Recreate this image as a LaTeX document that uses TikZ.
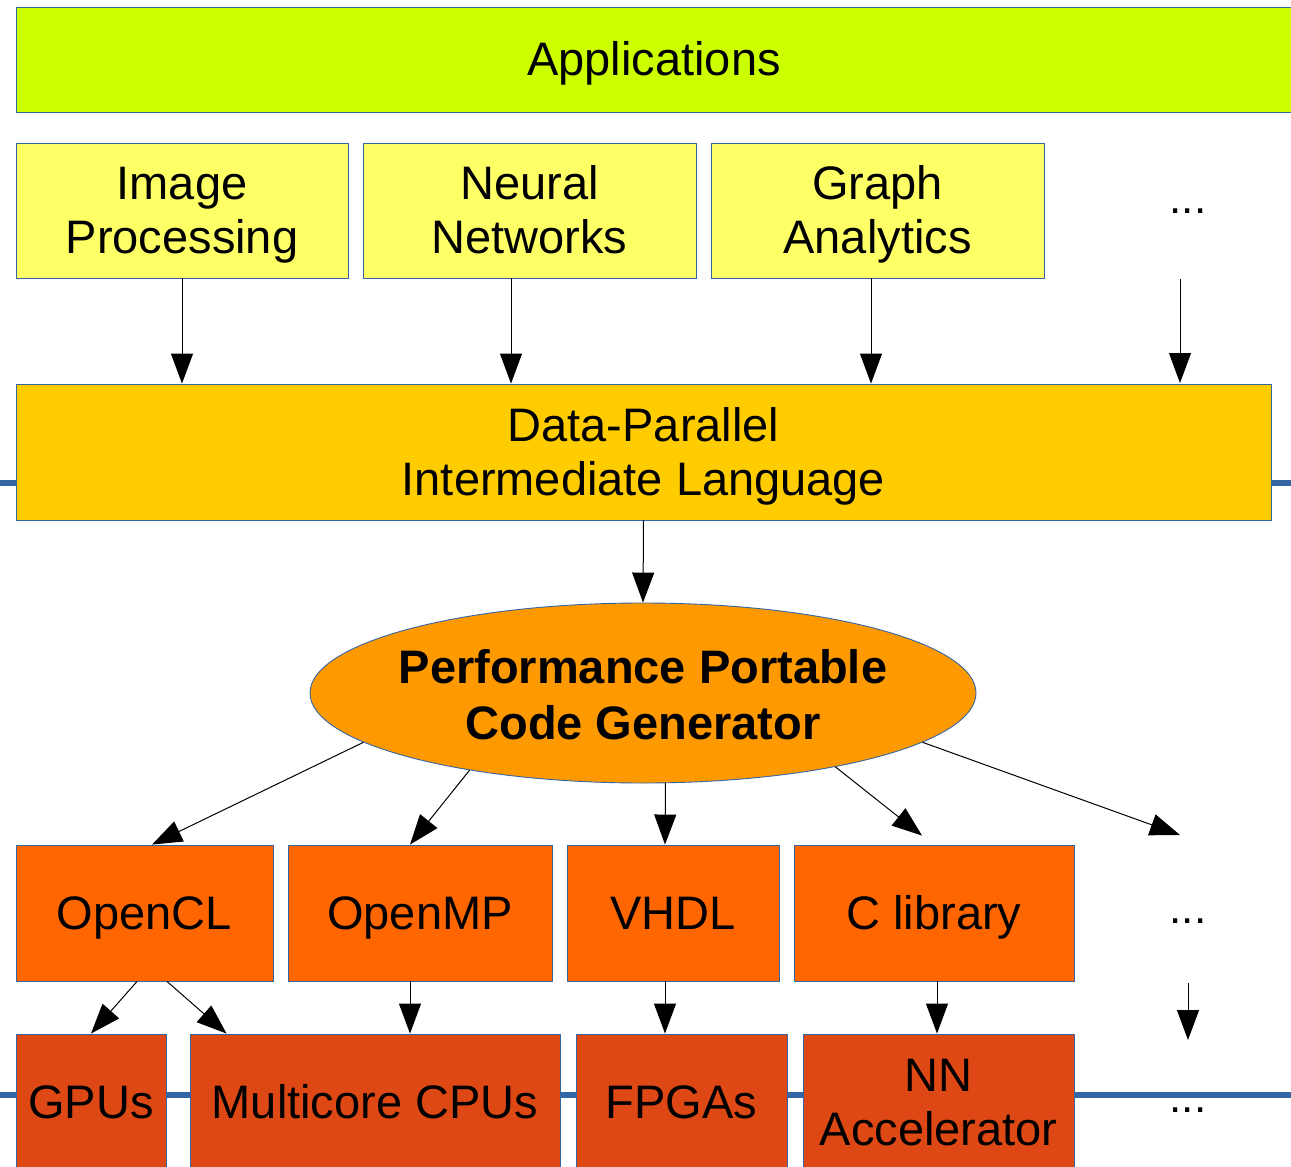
\documentclass[tikz,border=0pt]{standalone}
\usepackage{fontspec}
\setmainfont{Liberation Sans}
\usetikzlibrary{shapes.geometric,arrows.meta,calc}
\definecolor{appc}{HTML}{CCFF00}
\definecolor{yelc}{HTML}{FFFF66}
\definecolor{dpc}{HTML}{FFCC00}
\definecolor{elc}{HTML}{FF9900}
\definecolor{bkc}{HTML}{FF6600}
\definecolor{hwc}{HTML}{DD4814}
\definecolor{bordc}{HTML}{3465A4}
\newcommand\mystrut{\rule[-10pt]{0pt}{52.5pt}}
\begin{document}
\begin{tikzpicture}[x=1pt,y=-1pt,
  box/.style={draw=bordc, line width=0.9pt, rectangle, inner sep=0pt, align=center,
    font=\fontsize{47}{54}\selectfont},
  row1/.style={box, fill=yelc, minimum height=135pt},
  row3/.style={box, fill=bkc, minimum height=136pt},
  row4/.style={box, fill=hwc, minimum height=136pt},
  dots/.style={inner sep=0pt, font=\fontsize{44}{50}\selectfont},
  arr/.style={-{Triangle[length=30pt,width=22pt]}, line width=1pt, black},
  busline/.style={bordc, line width=6pt},
]
\useasboundingbox (0,0) rectangle (1291,1167);
\clip (0,0) rectangle (1291,1167);

% blue bus lines (background)
\draw[busline] (0,482.5) -- (1291,482.5);
\draw[busline] (0,1095) -- (1291,1095);

% Applications
\node[box, fill=appc, minimum width=1276pt, minimum height=105pt] (app) at (654,59.5) {\mystrut Applications};

% Row 1
\node[row1, minimum width=332pt] (ip) at (182,210.5) {\mystrut Image\\\mystrut Processing};
\node[row1, minimum width=333pt] (nn) at (529.5,210.5) {\mystrut Neural\\\mystrut Networks};
\node[row1, minimum width=333pt] (ga) at (877.5,210.5) {\mystrut Graph\\\mystrut Analytics};
\node[dots] (d1) at (1188,211) {...};

% DPIL
\node[box, fill=dpc, minimum width=1255pt, minimum height=136pt] (dp) at (643.5,452) {\mystrut Data-Parallel\\\mystrut Intermediate Language};

% Ellipse
\node[ellipse, draw=bordc, line width=0.9pt, fill=elc, minimum width=666pt, minimum height=180pt,
  inner sep=0pt] (cg) at (643,693) {};
\node[inner sep=0pt, align=center, font=\fontsize{47}{56}\selectfont\bfseries] (cgt) at ([yshift=-2.5pt]cg.center)
  {\mystrut Performance Portable\\\mystrut Code Generator};

% Row 3
\node[row3, minimum width=257pt] (ocl) at (144.5,913) {\mystrut OpenCL};
\node[row3, minimum width=264pt] (omp) at (420,913) {\mystrut OpenMP};
\node[row3, minimum width=212pt] (vh) at (673,913) {\mystrut VHDL};
\node[row3, minimum width=280pt] (cl) at (934,913) {\mystrut C library};
\node[dots] (d2) at (1188,921) {...};

% Row 4
\node[row4, minimum width=150pt] (gpu) at (91,1102) {\mystrut GPUs};
\node[row4, minimum width=370pt] (mc) at (375,1102) {\mystrut Multicore CPUs};
\node[row4, minimum width=211pt] (fp) at (681.5,1102) {\mystrut FPGAs};
\node[row4, minimum width=271pt] (na) at (938.5,1102) {\mystrut NN\\\mystrut Accelerator};
\node[dots] (d3) at (1188,1110) {...};

% coordinates for free ends
\coordinate (r1s) at (1180,279);
\coordinate (r1e) at (1180,383);
\coordinate (r3e) at (1180,835);
\coordinate (r4s) at (1188,983);
\coordinate (r4e) at (1188,1040);

% Row 1 -> DPIL
\draw[arr] (ip.south) -- (ip.south |- dp.north);
\draw[arr] ([xshift=-18.5pt]nn.south) -- ([xshift=-18.5pt]nn.south |- dp.north);
\draw[arr] ([xshift=-6.5pt]ga.south) -- ([xshift=-6.5pt]ga.south |- dp.north);
\draw[arr] (r1s) -- (r1e);

% DPIL -> ellipse
\draw[arr] (dp.south) -- (cg.north);

% ellipse -> row 3
\draw[arr] (cg.190) -- ([xshift=7.5pt]ocl.north);
\draw[arr] (cg.204) -- ([xshift=-10pt]omp.north);
\draw[arr] (cg.284) -- ([xshift=-8pt]vh.north);
\draw[arr] (cg.339) -- ([xshift=-12pt,yshift=9pt]cl.north);
\draw[arr] (cg.350) -- (r3e);

% row 3 -> row 4
\draw[arr] ([xshift=-7.5pt]ocl.south) -- (gpu.north);
\draw[arr] ([xshift=22.5pt]ocl.south) -- ([xshift=37pt]mc.north west);
\draw[arr] ([xshift=-10pt]omp.south) -- ([xshift=-10pt]omp.south |- mc.north);
\draw[arr] ([xshift=-8pt]vh.south) -- ([xshift=-8pt]vh.south |- fp.north);
\draw[arr] ([xshift=3pt]cl.south) -- ([xshift=3pt]cl.south |- na.north);
\draw[arr] (r4s) -- (r4e);
\end{tikzpicture}
\end{document}
